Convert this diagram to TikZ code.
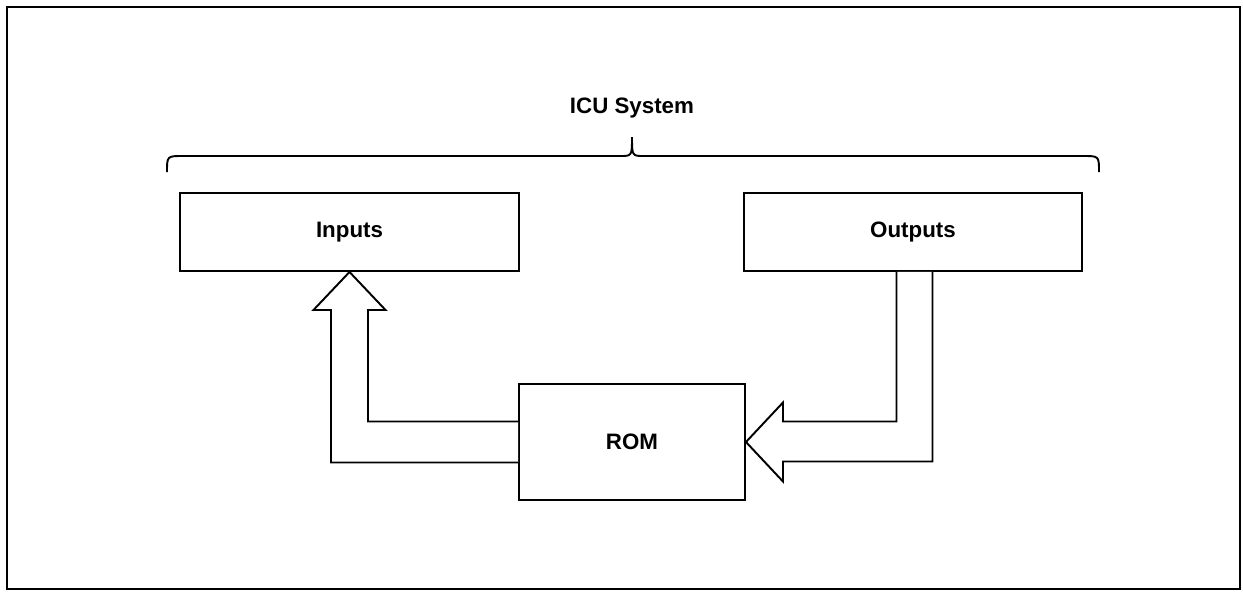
\documentclass[tikz,border=0pt]{standalone}
\usepackage{fontspec}
\setmainfont{Liberation Sans}
\usetikzlibrary{calc}

\begin{document}
\begin{tikzpicture}[
        box/.style={draw, line width=1.1pt, align=center, inner sep=0pt,
                    font=\bfseries\fontsize{12.7}{15}\selectfont},
        wide/.style={box, minimum width=6.77cm, minimum height=1.56cm},
        blockarrow/.style={draw, fill=white, line width=1.1pt, miter limit=10},
        title/.style={font=\bfseries\fontsize{12.7}{15}\selectfont}
    ]
        \useasboundingbox (0,0) rectangle (24.86,11.82);
        \draw[line width=1.3pt] (0.14,0.04) rectangle (24.80,11.68);

        \node[title] (sys) at (12.64,9.66) {ICU System};
        \coordinate (bl) at (3.34,8.38);
        \coordinate (br) at (21.98,8.38);
        \coordinate (tip) at (12.64,9.08);
        \draw[line width=1.1pt] (bl) .. controls (3.34,8.70) .. (3.66,8.70) -- (12.40,8.70)
            .. controls (12.64,8.70) .. (tip) .. controls (12.64,8.70) .. (12.88,8.70)
            -- (21.66,8.70) .. controls (21.98,8.70) .. (br);

        \node[wide] (in) at (6.99,7.18) {Inputs};
        \node[wide] (out) at (18.26,7.18) {Outputs};
        \node[box, minimum width=4.52cm, minimum height=2.32cm] (rom) at (12.64,2.98) {ROM};

        % ROM -> Inputs
        \draw[blockarrow] let \p1=(rom.west), \p2=(in.south) in
            (\x1,\y1+0.41cm) -- (\x2+0.37cm,\y1+0.41cm) -- (\x2+0.37cm,\y2-0.76cm)
            -- (\x2+0.72cm,\y2-0.76cm) -- (\p2) -- (\x2-0.72cm,\y2-0.76cm)
            -- (\x2-0.37cm,\y2-0.76cm) -- (\x2-0.37cm,\y1-0.41cm) -- (\x1,\y1-0.41cm);
        % Outputs -> ROM
        \draw[blockarrow] let \p1=(out.south), \p2=(rom.east) in
            (\x1-0.33cm,\y1) -- (\x1-0.33cm,\y2+0.41cm) -- (\x2+0.74cm,\y2+0.41cm)
            -- (\x2+0.74cm,\y2+0.79cm) -- (\p2) -- (\x2+0.74cm,\y2-0.79cm)
            -- (\x2+0.74cm,\y2-0.39cm) -- (\x1+0.39cm,\y2-0.39cm) -- (\x1+0.39cm,\y1);
    \end{tikzpicture}
\end{document}
